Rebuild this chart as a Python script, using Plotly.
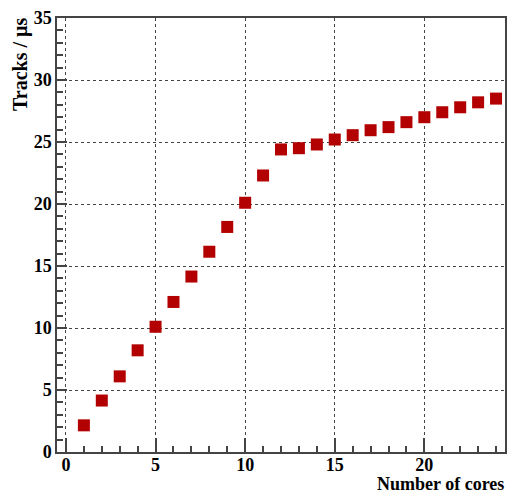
import plotly.graph_objects as go

cores = list(range(1, 25))
tracks_per_us = [2.15, 4.15, 6.1, 8.2, 10.1, 12.1, 14.15, 16.15, 18.15, 20.1,
                 22.3, 24.4, 24.5, 24.8, 25.2, 25.55, 25.95, 26.2, 26.6, 27.0,
                 27.4, 27.8, 28.2, 28.5]
x_title = "Number of cores"
y_title = "Tracks / \u00b5s"

font_family = "Liberation Serif, Times New Roman, serif"

fig = go.Figure()
fig.add_trace(go.Scatter(
    x=cores, y=tracks_per_us, mode="markers",
    marker=dict(symbol="square", size=12, color="#b30000",
                line=dict(width=0)),
    showlegend=False,
))

axis_common = dict(
    showline=True, linecolor="#444", linewidth=1.5, mirror=True,
    showgrid=True, gridcolor="#444", griddash="dot", gridwidth=1,
    zeroline=False, ticks="inside", tickcolor="#444", tickwidth=1.5,
    tickfont=dict(family=font_family, size=18, color="black", weight="bold"),
)

fig.update_xaxes(range=[-0.5, 24.5], dtick=5, tick0=0, ticklen=14,
                 ticklabelstandoff=-4,
                 minor=dict(ticks="inside", dtick=1, tick0=0, ticklen=6,
                            tickcolor="#444", showgrid=False),
                 **axis_common)
fig.update_yaxes(range=[0, 35], dtick=5, tick0=0, ticklen=10,
                 minor=dict(ticks="inside", dtick=1, tick0=0, ticklen=6,
                            tickcolor="#444", showgrid=False),
                 **axis_common)

fig.update_layout(
    width=507, height=495,
    margin=dict(l=57, r=0, t=18, b=43),
    plot_bgcolor="white", paper_bgcolor="white",
    annotations=[
        dict(text=x_title, xref="paper", yref="paper", x=1.0, y=0,
             xanchor="right", yanchor="bottom", yshift=-43, borderpad=0,
             showarrow=False,
             font=dict(family=font_family, size=18, color="black", weight="bold")),
        dict(text=y_title, xref="paper", yref="paper", x=0, y=1.0,
             xanchor="center", yanchor="top", xshift=-37, yshift=3,
             textangle=-90, showarrow=False,
             font=dict(family=font_family, size=20, color="black", weight="bold")),
    ],
)

fig.write_html("out.html")
